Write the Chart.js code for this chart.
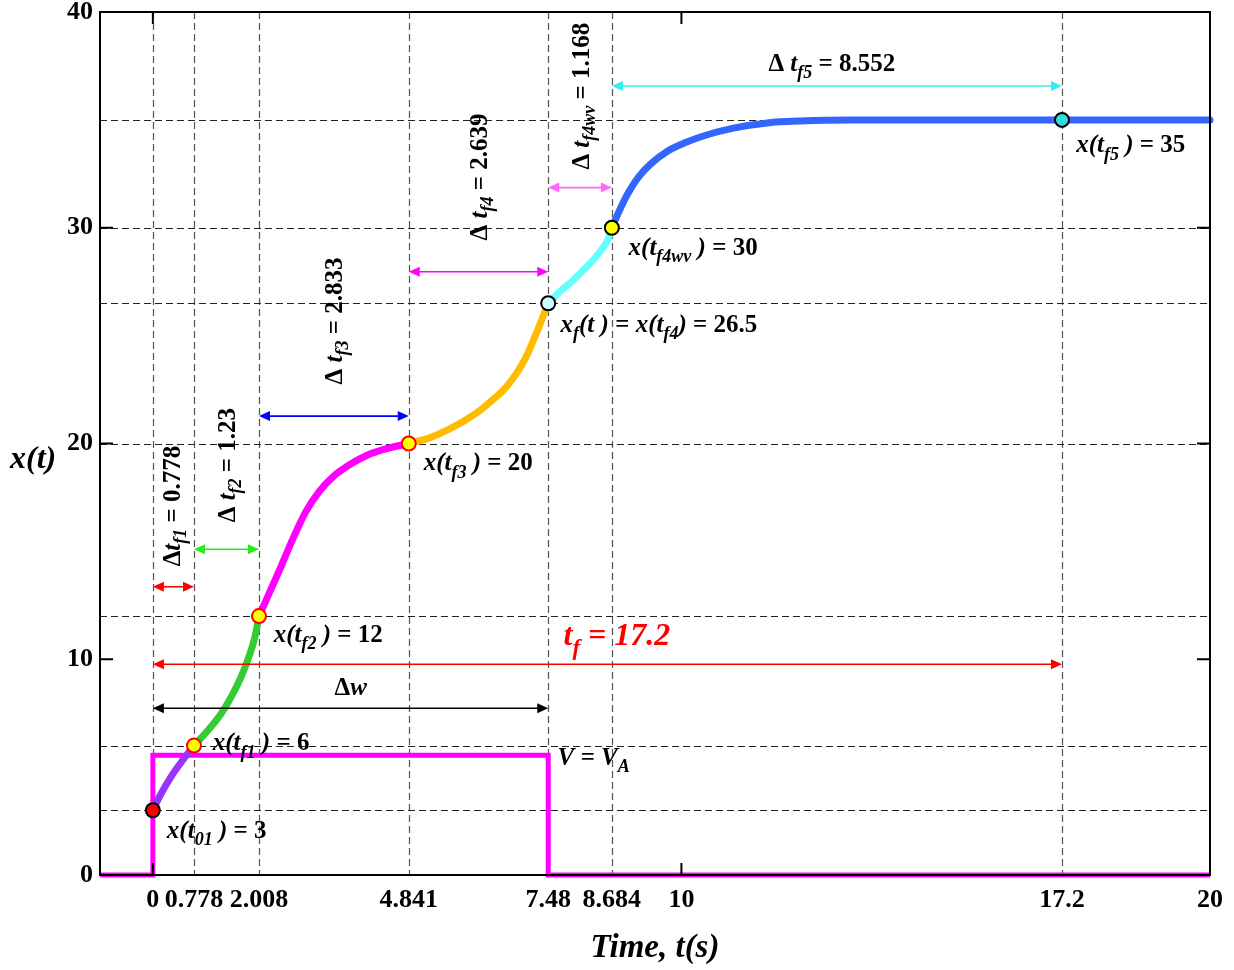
<!DOCTYPE html>
<html>
<head>
<meta charset="utf-8">
<script src="https://cdn.jsdelivr.net/npm/chart.js@4.4.1/dist/chart.umd.min.js"></script>
<style>
  html, body { margin: 0; padding: 0; background: #fff; }
  #chart { display: block; }
</style>
</head>
<body>
<canvas id="chart" width="1234" height="970"></canvas>
<script>
const FONT = '"Liberation Serif", "Times New Roman", serif';

// axis ticks
const xTickValues = [0, 0.778, 2.008, 4.841, 7.48, 8.684, 10, 17.2, 20];
const xTickLabels = ['0', '0.778', '2.008', '4.841', '7.48', '8.684', '10', '17.2', '20'];
const yTickValues = [0, 10, 20, 30, 40];
const xMajor = [0, 10, 20];
const yMajor = [10, 20, 30, 40];

// dashed guide lines
const guideTimes = [0, 0.778, 2.008, 4.841, 7.48, 8.684, 17.2];
const guideLevels = [3, 6, 12, 20, 26.5, 30, 35];

// x(t) pieces, [t, x]
const purpleSeg = [[0, 3], [0.151, 3.75], [0.34, 4.54], [0.567, 5.33], [0.778, 6]];
const greenSeg = [[0.778, 6], [1.04, 6.7], [1.285, 7.45], [1.493, 8.3], [1.663, 9.15], [1.815, 10.1], [1.928, 11.0], [2.008, 12]];
const magentaSeg = [[2.008, 12], [2.363, 13.95], [2.665, 15.67], [2.892, 16.83], [3.138, 17.75], [3.422, 18.49],
  [3.743, 19.05], [4.064, 19.47], [4.405, 19.75], [4.841, 20]];
const orangeSeg = [[4.841, 20], [5.217, 20.25], [5.577, 20.63], [5.917, 21.09], [6.2, 21.55], [6.446, 22.06], [6.635, 22.48],
  [6.805, 22.99], [6.957, 23.55], [7.089, 24.15], [7.202, 24.8], [7.335, 25.59], [7.48, 26.5]];
const cyanSeg = [[7.48, 26.5], [7.713, 27.07], [7.958, 27.58], [8.129, 28.0], [8.28, 28.37], [8.412, 28.74], [8.526, 29.11],
  [8.62, 29.52], [8.684, 30]];
const blueSeg = [[8.684, 30], [8.847, 30.9], [8.979, 31.55], [9.187, 32.35], [9.414, 32.95], [9.735, 33.55], [10.076, 33.95],
  [10.473, 34.3], [10.983, 34.62], [11.626, 34.86], [12.25, 34.95], [13.19, 35], [20, 35]];

// input V = V_A
const inputT = [-1, 0, 0, 7.48, 7.48, 20];
const inputV = [0, 0, 5.55, 5.55, 0, 0];

// key points
const keyT = [0, 0.778, 2.008, 4.841, 7.48, 8.684, 17.2];
const keyX = [3, 6, 12, 20, 26.5, 30, 35];
const keyFill = ['#ff0000', '#ffff00', '#ffff00', '#ffff00', '#ccffff', '#ffff00', '#33dddd'];
const keyEdge = ['#000000', '#ff0000', '#ff0000', '#ff0000', '#000000', '#000000', '#000000'];

// interval arrows
const spanFrom = [0, 0.778, 2.008, 4.841, 7.48, 8.684, 0, 0];
const spanTo = [0.778, 2.008, 4.841, 7.48, 8.684, 17.2, 17.2, 7.48];
const spanLevel = [13.36, 15.1, 21.27, 27.96, 31.86, 36.57, 9.77, 7.73];
const spanColor = ['#ff0000', '#22ee22', '#0000ff', '#ff00ff', '#ff66ff', '#33eeee', '#ff0000', '#000000'];

const toXY = (arr) => arr.map(([x, y]) => ({ x, y }));

function drawRich(ctx, markup, x, y, size, color, align) {
  const parts = [];
  const re = /\{(\w)\}([^{]*)/g;
  let m;
  while ((m = re.exec(markup)) !== null) parts.push({ style: m[1], text: m[2] });
  const fontFor = (p) => {
    const s = p.style === 's' ? size * 0.72 : size;
    const it = p.style === 'n' ? '' : 'italic ';
    return it + 'bold ' + s + 'px ' + FONT;
  };
  let total = 0;
  for (const p of parts) {
    ctx.font = fontFor(p);
    p.w = ctx.measureText(p.text).width;
    total += p.w;
  }
  let cx = align === 'center' ? x - total / 2 : x;
  ctx.fillStyle = color;
  for (const p of parts) {
    ctx.font = fontFor(p);
    ctx.fillText(p.text, cx, y + (p.style === 's' ? size * 0.3 : 0));
    cx += p.w;
  }
}

const notes = [
  { text: '{i}x(t{s}01{i} ) {n}= 3', t: 0.265, v: 1.715 },
  { text: '{i}x(t{s}f1{i} ) {n}= 6', t: 1.134, v: 5.79 },
  { text: '{i}x(t{s}f2{i} ) {n}= 12', t: 2.287, v: 10.8 },
  { text: '{i}x(t{s}f3{i} ) {n}= 20', t: 5.123, v: 18.77 },
  { text: '{i}x{s}f{i}(t ) {n}= {i}x(t{s}f4{i}) {n}= 26.5', t: 7.713, v: 25.17 },
  { text: '{i}x(t{s}f4wv{i} ) {n}= 30', t: 9.0, v: 28.74 },
  { text: '{i}x(t{s}f5{i} ) {n}= 35', t: 17.47, v: 33.51 },
  { text: '{n}Δ {i}t{s}f5{n} = 8.552', t: 11.645, v: 37.27 },
  { text: '{i}V = V{s}A', t: 7.656, v: 5.1 }
];

const sideNotes = [
  { text: '{n}Δ{i}t{s}f1{n} = 0.778', t: 0.397, v: 17.1 },
  { text: '{n}Δ {i}t{s}f2{n} = 1.23', t: 1.437, v: 19.0 },
  { text: '{n}Δ {i}t{s}f3{n} = 2.833', t: 3.459, v: 25.68 },
  { text: '{n}Δ {i}t{s}f4{n} = 2.639', t: 6.2, v: 32.35 },
  { text: '{n}Δ {i}t{s}f4wv{n} = 1.168', t: 8.129, v: 36.1 }
];

const guidesPlugin = {
  id: 'guides',
  beforeDatasetsDraw(chart) {
    const { ctx, chartArea: a, scales: { x, y } } = chart;
    ctx.save();
    ctx.lineWidth = 1.2;
    ctx.setLineDash([7, 4]);
    ctx.strokeStyle = '#555';
    for (const t of guideTimes) {
      const px = Math.round(x.getPixelForValue(t)) + 0.5;
      ctx.beginPath();
      ctx.moveTo(px, a.top);
      ctx.lineTo(px, a.bottom);
      ctx.stroke();
    }
    ctx.strokeStyle = '#222';
    for (const v of guideLevels) {
      const py = Math.round(y.getPixelForValue(v)) + 0.5;
      ctx.beginPath();
      ctx.moveTo(a.left, py);
      ctx.lineTo(a.right, py);
      ctx.stroke();
    }
    ctx.restore();
  },
  afterDatasetsDraw(chart) {
    const { ctx, chartArea: a, scales: { x, y } } = chart;
    ctx.save();
    // arrows
    spanFrom.forEach((from, i) => {
      const x1 = x.getPixelForValue(from);
      const x2 = x.getPixelForValue(spanTo[i]);
      const py = y.getPixelForValue(spanLevel[i]);
      ctx.strokeStyle = spanColor[i];
      ctx.fillStyle = spanColor[i];
      ctx.lineWidth = 1.6;
      ctx.beginPath();
      ctx.moveTo(x1 + 6, py);
      ctx.lineTo(x2 - 6, py);
      ctx.stroke();
      for (const [tip, dir] of [[x1, -1], [x2, 1]]) {
        ctx.beginPath();
        ctx.moveTo(tip, py);
        ctx.lineTo(tip - dir * 11, py - 5);
        ctx.lineTo(tip - dir * 11, py + 5);
        ctx.closePath();
        ctx.fill();
      }
    });

    // frame and inward ticks
    ctx.strokeStyle = '#000';
    ctx.lineWidth = 2;
    ctx.strokeRect(a.left, a.top, a.right - a.left, a.bottom - a.top);
    for (const t of xMajor) {
      const px = x.getPixelForValue(t);
      ctx.beginPath();
      ctx.moveTo(px, a.top);
      ctx.lineTo(px, a.top + 12);
      ctx.moveTo(px, a.bottom);
      ctx.lineTo(px, a.bottom - 12);
      ctx.stroke();
    }
    for (const v of yMajor) {
      const py = y.getPixelForValue(v);
      ctx.beginPath();
      ctx.moveTo(a.left, py);
      ctx.lineTo(a.left + 13, py);
      ctx.moveTo(a.right, py);
      ctx.lineTo(a.right - 13, py);
      ctx.stroke();
    }

    // annotations
    ctx.textBaseline = 'alphabetic';
    for (const n of notes) {
      drawRich(ctx, n.text, x.getPixelForValue(n.t), y.getPixelForValue(n.v), 25, '#000', 'left');
    }
    drawRich(ctx, '{i}t{s}f{i} = 17.2', x.getPixelForValue(7.77), y.getPixelForValue(10.66), 32, '#ff0000', 'left');
    drawRich(ctx, '{n}Δ{i}w', x.getPixelForValue(3.743), y.getPixelForValue(8.343), 25, '#000', 'center');
    ctx.textBaseline = 'middle';
    for (const n of sideNotes) {
      ctx.save();
      ctx.translate(x.getPixelForValue(n.t), y.getPixelForValue(n.v));
      ctx.rotate(-Math.PI / 2);
      drawRich(ctx, n.text, 0, 0, 25, '#000', 'center');
      ctx.restore();
    }
    // y axis label
    ctx.textBaseline = 'alphabetic';
    drawRich(ctx, '{i}x(t)', 10, y.getPixelForValue(18.86), 32, '#000', 'left');
    ctx.restore();
  }
};

const segStyle = (data, color) => ({
  type: 'line',
  data: toXY(data),
  borderColor: color,
  borderWidth: 7,
  pointRadius: 0,
  cubicInterpolationMode: 'monotone',
  borderCapStyle: 'round',
  clip: false,
  order: 2
});

new Chart(document.getElementById('chart'), {
  type: 'scatter',
  data: {
    datasets: [
      {
        type: 'scatter',
        data: keyT.map((t, i) => ({ x: t, y: keyX[i] })),
        pointRadius: 7,
        pointBorderWidth: 2,
        pointBackgroundColor: keyFill,
        pointBorderColor: keyEdge,
        clip: false,
        order: 0
      },
      segStyle(purpleSeg, '#9933ff'),
      segStyle(greenSeg, '#33cc33'),
      segStyle(magentaSeg, '#ff00ff'),
      segStyle(orangeSeg, '#ffbb00'),
      segStyle(cyanSeg, '#66ffff'),
      segStyle(blueSeg, '#3366ff'),
      {
        type: 'line',
        data: inputT.map((t, i) => ({ x: t, y: inputV[i] })),
        borderColor: '#ff00ff',
        borderWidth: 5,
        pointRadius: 0,
        tension: 0,
        clip: false,
        order: 3
      }
    ]
  },
  options: {
    responsive: false,
    animation: false,
    events: [],
    layout: { padding: 0 },
    plugins: { legend: { display: false }, tooltip: { enabled: false } },
    scales: {
      x: {
        type: 'linear',
        min: -1,
        max: 20,
        grid: { display: false, drawTicks: false },
        border: { display: false },
        afterBuildTicks: (s) => { s.ticks = xTickValues.map((v) => ({ value: v })); },
        afterFit: (s) => { s.height = 95; s.paddingLeft = 0; s.paddingRight = 24; },
        ticks: {
          autoSkip: false,
          maxRotation: 0,
          padding: 10,
          color: '#000',
          font: { family: FONT, size: 26, weight: 'bold' },
          callback: (v, i) => xTickLabels[i]
        },
        title: {
          display: true,
          text: 'Time, t(s)',
          color: '#000',
          font: { family: FONT, size: 33, weight: 'bold', style: 'italic' },
          padding: { top: 0, bottom: 2 }
        }
      },
      y: {
        type: 'linear',
        min: 0,
        max: 40,
        grid: { display: false, drawTicks: false },
        border: { display: false },
        afterBuildTicks: (s) => { s.ticks = yTickValues.map((v) => ({ value: v })); },
        afterFit: (s) => { s.width = 100; s.paddingTop = 12; s.paddingBottom = 0; },
        ticks: {
          padding: 7,
          color: '#000',
          font: { family: FONT, size: 26, weight: 'bold' },
          callback: (v) => String(v)
        }
      }
    }
  },
  plugins: [guidesPlugin]
});
</script>
</body>
</html>
